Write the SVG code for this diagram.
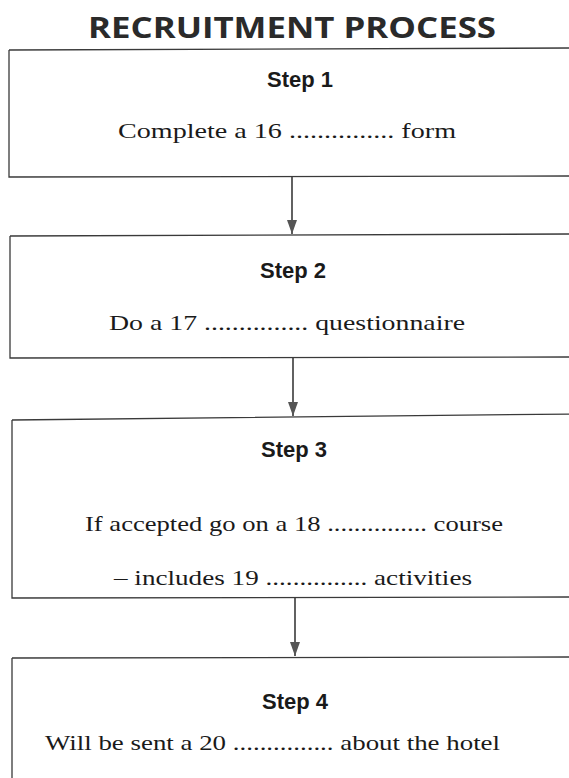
<svg xmlns="http://www.w3.org/2000/svg" width="569" height="778" viewBox="0 0 569 778">
<defs>
<style>
.box{fill:none;stroke:#3a3a3a;stroke-width:1.3}
.title{font-family:"Open Sans","Liberation Sans",sans-serif;font-weight:700;font-size:29px;fill:#2a2a2a;text-anchor:middle}
.step{font-family:"Liberation Sans",Arial,sans-serif;font-weight:700;font-size:22px;fill:#1a1a1a;text-anchor:middle}
.body{font-family:"Liberation Serif","Times New Roman",serif;font-size:22px;fill:#1a1a1a}
.conn{stroke:#3a3a3a;stroke-width:1.6;fill:none}
</style>
<marker id="arr" viewBox="0 0 14 10" refX="14" refY="5" markerWidth="14" markerHeight="10" markerUnits="userSpaceOnUse" orient="auto">
<path d="M0,0 L14,5 L0,10 Z" fill="#555"/>
</marker>
</defs>
<rect width="569" height="778" fill="#ffffff"/>
<text class="title" x="292" y="38" textLength="408" lengthAdjust="spacingAndGlyphs">RECRUITMENT PROCESS</text>
<g id="step1">
<path class="box" d="M9,50 L575,48 M9,50 L9,177 L575,176"/>
<text class="step" x="300" y="87">Step 1</text>
<text class="body" x="118" y="138" textLength="338" lengthAdjust="spacingAndGlyphs">Complete a 16 ............... form</text>
</g>
<g id="step2">
<path class="box" d="M10,236 L575,234 M10,236 L10,358 L575,357"/>
<text class="step" x="293" y="278">Step 2</text>
<text class="body" x="109" y="330" textLength="356" lengthAdjust="spacingAndGlyphs">Do a 17 ............... questionnaire</text>
</g>
<g id="step3">
<path class="box" d="M12,420 L575,414 M12,420 L12,598 L575,597"/>
<text class="step" x="294" y="457">Step 3</text>
<text class="body" x="85" y="531" textLength="418" lengthAdjust="spacingAndGlyphs">If accepted go on a 18 ............... course</text>
<text class="body" x="114" y="585" textLength="358" lengthAdjust="spacingAndGlyphs">– includes 19 ............... activities</text>
</g>
<g id="step4">
<path class="box" d="M12,658 L575,657 M12,658 L12,780"/>
<text class="step" x="295" y="709">Step 4</text>
<text class="body" x="45" y="750" textLength="455" lengthAdjust="spacingAndGlyphs">Will be sent a 20 ............... about the hotel</text>
</g>
<g id="connectors">
<line class="conn" x1="292" y1="177" x2="292" y2="234" marker-end="url(#arr)"/>
<line class="conn" x1="293" y1="358" x2="293" y2="416" marker-end="url(#arr)"/>
<line class="conn" x1="295" y1="598" x2="295" y2="656" marker-end="url(#arr)"/>
</g>
</svg>
